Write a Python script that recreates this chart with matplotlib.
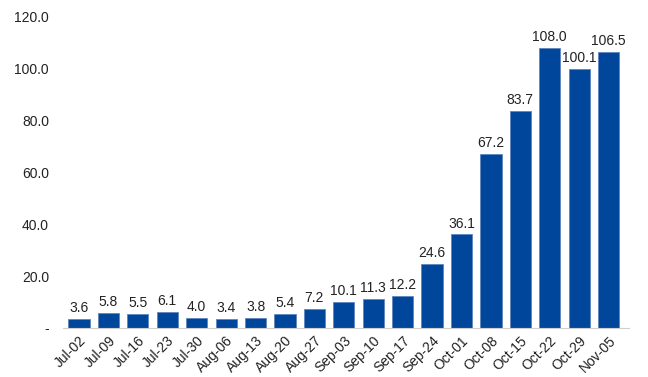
import matplotlib
matplotlib.use("Agg")
import matplotlib.pyplot as plt

weeks = ["Jul-02", "Jul-09", "Jul-16", "Jul-23", "Jul-30", "Aug-06", "Aug-13",
         "Aug-20", "Aug-27", "Sep-03", "Sep-10", "Sep-17", "Sep-24", "Oct-01",
         "Oct-08", "Oct-15", "Oct-22", "Oct-29", "Nov-05"]
values = [3.6, 5.8, 5.5, 6.1, 4.0, 3.4, 3.8, 5.4, 7.2, 10.1, 11.3, 12.2,
          24.6, 36.1, 67.2, 83.7, 108.0, 100.1, 106.5]
y_ticks = [0, 20, 40, 60, 80, 100, 120]
y_labels = ["-", "20.0", "40.0", "60.0", "80.0", "100.0", "120.0"]

plt.rcParams["font.family"] = ["Liberation Sans", "DejaVu Sans"]

fig = plt.figure(figsize=(6.48, 3.77), dpi=100)
ax = fig.add_axes([0.097, 0.130, 0.874, 0.825])

x = range(len(weeks))
ax.bar(x, values, width=0.72, color="#00479B", edgecolor="#5f86c0", linewidth=0.6)
for xi, v in zip(x, values):
    ax.text(xi, v + 1.5, f"{v:.1f}", ha="center", va="bottom", fontsize=10, color="#222222")

ax.set_ylim(0, 120)
ax.set_xlim(-0.55, len(weeks) - 0.3)
ax.set_yticks(y_ticks)
ax.set_yticklabels(y_labels, fontsize=10, color="#222222")
ax.set_xticks(list(x))
ax.set_xticklabels(weeks, rotation=45, ha="right", rotation_mode="anchor", fontsize=10, color="#222222")
ax.tick_params(length=0, pad=10, axis="y")
ax.tick_params(length=0, pad=4, axis="x")
for side in ["top", "right", "left"]:
    ax.spines[side].set_visible(False)
ax.spines["bottom"].set_color("#d0d0d0")

fig.savefig("out.png", dpi=100)
